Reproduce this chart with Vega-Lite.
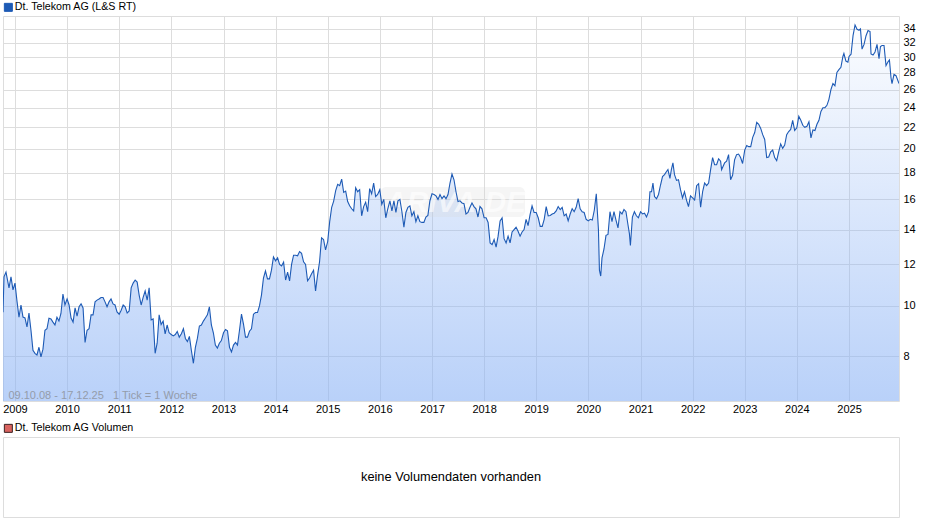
{"$schema":"https://vega.github.io/schema/vega-lite/v6.json","padding":{"left":2,"top":1,"right":0,"bottom":0},"background":"white","spacing":7,"resolve":{"scale":{"color":"independent"},"legend":{"color":"independent"}},"config":{"font":"Liberation Sans","view":{"stroke":"#dddddd"}},
"datasets":{"price":[
{"d":"2008-10-09","v":9.71},{"d":"2008-10-16","v":11.36},{"d":"2008-10-30","v":11.6},{"d":"2008-11-20","v":10.82},{"d":"2008-12-04","v":11.36},{"d":"2008-12-18","v":10.72},
{"d":"2009-01-01","v":11.05},{"d":"2009-01-15","v":10.2},{"d":"2009-01-29","v":9.5},{"d":"2009-02-12","v":10.03},{"d":"2009-02-26","v":9.51},{"d":"2009-03-12","v":9.47},{"d":"2009-03-26","v":9.1},{"d":"2009-04-09","v":9.68},{"d":"2009-04-23","v":8.97},{"d":"2009-05-07","v":8.21},{"d":"2009-05-21","v":8.1},{"d":"2009-06-04","v":8.04},{"d":"2009-06-18","v":8.32},{"d":"2009-07-02","v":7.97},{"d":"2009-07-16","v":8.25},{"d":"2009-07-30","v":8.97},{"d":"2009-08-13","v":9.03},{"d":"2009-08-27","v":9.46},{"d":"2009-09-10","v":9.43},{"d":"2009-09-24","v":9.3},{"d":"2009-10-08","v":9.18},{"d":"2009-10-22","v":9.5},{"d":"2009-11-05","v":9.34},{"d":"2009-11-19","v":9.66},{"d":"2009-12-03","v":10.53},{"d":"2009-12-17","v":10.03},
{"d":"2010-01-01","v":10.3},{"d":"2010-01-15","v":10.03},{"d":"2010-01-29","v":9.47},{"d":"2010-02-12","v":9.3},{"d":"2010-02-26","v":9.9},{"d":"2010-03-12","v":9.55},{"d":"2010-03-26","v":9.95},{"d":"2010-04-09","v":10.08},{"d":"2010-04-23","v":9.9},{"d":"2010-05-07","v":8.5},{"d":"2010-05-21","v":8.97},{"d":"2010-06-04","v":9.03},{"d":"2010-06-18","v":9.6},{"d":"2010-07-02","v":9.6},{"d":"2010-07-16","v":10.17},{"d":"2010-07-30","v":10.25},{"d":"2010-08-13","v":10.3},{"d":"2010-08-27","v":10.37},{"d":"2010-09-10","v":10.37},{"d":"2010-09-24","v":10.17},{"d":"2010-10-08","v":9.95},{"d":"2010-10-22","v":10.17},{"d":"2010-11-05","v":10.3},{"d":"2010-11-19","v":10.08},{"d":"2010-12-03","v":10.03},{"d":"2010-12-17","v":9.73},
{"d":"2011-01-01","v":9.63},{"d":"2011-01-15","v":9.8},{"d":"2011-01-29","v":10.03},{"d":"2011-02-12","v":9.95},{"d":"2011-02-26","v":9.68},{"d":"2011-03-12","v":9.77},{"d":"2011-03-26","v":10.82},{"d":"2011-04-09","v":11.05},{"d":"2011-04-23","v":11.2},{"d":"2011-05-07","v":11.1},{"d":"2011-05-21","v":10.48},{"d":"2011-06-04","v":10.03},{"d":"2011-06-18","v":10.37},{"d":"2011-07-02","v":10.67},{"d":"2011-07-16","v":10.25},{"d":"2011-07-30","v":10.82},{"d":"2011-08-13","v":9.39},{"d":"2011-08-27","v":9.43},{"d":"2011-09-10","v":8.1},{"d":"2011-09-24","v":8.47},{"d":"2011-10-08","v":9.6},{"d":"2011-10-22","v":9.2},{"d":"2011-11-05","v":9.34},{"d":"2011-11-19","v":8.83},{"d":"2011-12-03","v":9.18},{"d":"2011-12-17","v":8.87},
{"d":"2012-01-01","v":8.8},{"d":"2012-01-15","v":8.75},{"d":"2012-01-29","v":8.8},{"d":"2012-02-12","v":8.92},{"d":"2012-02-26","v":8.7},{"d":"2012-03-12","v":8.83},{"d":"2012-03-26","v":9.03},{"d":"2012-04-09","v":8.65},{"d":"2012-04-23","v":8.53},{"d":"2012-05-07","v":8.73},{"d":"2012-05-21","v":8.2},{"d":"2012-06-04","v":7.75},{"d":"2012-06-18","v":8.32},{"d":"2012-07-02","v":8.65},{"d":"2012-07-16","v":9.14},{"d":"2012-07-30","v":9.18},{"d":"2012-08-13","v":9.34},{"d":"2012-08-27","v":9.47},{"d":"2012-09-10","v":9.6},{"d":"2012-09-24","v":9.95},{"d":"2012-10-08","v":9.18},{"d":"2012-10-22","v":8.87},{"d":"2012-11-05","v":8.4},{"d":"2012-11-19","v":8.29},{"d":"2012-12-03","v":8.47},{"d":"2012-12-17","v":8.57},
{"d":"2013-01-01","v":8.87},{"d":"2013-01-15","v":9.0},{"d":"2013-01-29","v":8.95},{"d":"2013-02-12","v":8.32},{"d":"2013-02-26","v":8.15},{"d":"2013-03-12","v":8.4},{"d":"2013-03-26","v":8.5},{"d":"2013-04-09","v":8.4},{"d":"2013-04-23","v":8.97},{"d":"2013-05-07","v":9.63},{"d":"2013-05-21","v":9.22},{"d":"2013-06-04","v":8.7},{"d":"2013-06-18","v":8.7},{"d":"2013-07-02","v":8.93},{"d":"2013-07-16","v":9.03},{"d":"2013-07-30","v":9.63},{"d":"2013-08-13","v":9.7},{"d":"2013-08-27","v":9.7},{"d":"2013-09-10","v":9.99},{"d":"2013-09-24","v":10.48},{"d":"2013-10-08","v":11.3},{"d":"2013-10-22","v":11.66},{"d":"2013-11-05","v":11.26},{"d":"2013-11-19","v":11.26},{"d":"2013-12-03","v":11.7},{"d":"2013-12-17","v":12.4},
{"d":"2014-01-01","v":12.19},{"d":"2014-01-15","v":12.36},{"d":"2014-01-29","v":12.0},{"d":"2014-02-12","v":11.92},{"d":"2014-02-26","v":12.12},{"d":"2014-03-12","v":11.2},{"d":"2014-03-26","v":11.6},{"d":"2014-04-09","v":11.16},{"d":"2014-04-23","v":12.0},{"d":"2014-05-07","v":12.5},{"d":"2014-05-21","v":12.5},{"d":"2014-06-04","v":12.47},{"d":"2014-06-18","v":12.7},{"d":"2014-07-02","v":12.6},{"d":"2014-07-16","v":12.14},{"d":"2014-07-30","v":12.0},{"d":"2014-08-13","v":11.16},{"d":"2014-08-27","v":11.3},{"d":"2014-09-10","v":11.52},{"d":"2014-09-24","v":11.7},{"d":"2014-10-08","v":10.67},{"d":"2014-10-22","v":11.45},{"d":"2014-11-05","v":12.14},{"d":"2014-11-19","v":13.5},{"d":"2014-12-03","v":13.4},{"d":"2014-12-17","v":12.8},
{"d":"2015-01-01","v":13.28},{"d":"2015-01-15","v":14.5},{"d":"2015-01-29","v":15.45},{"d":"2015-02-12","v":15.88},{"d":"2015-02-26","v":16.63},{"d":"2015-03-12","v":17.1},{"d":"2015-03-26","v":17.0},{"d":"2015-04-09","v":17.5},{"d":"2015-04-23","v":16.5},{"d":"2015-05-07","v":16.6},{"d":"2015-05-21","v":15.85},{"d":"2015-06-04","v":15.56},{"d":"2015-06-18","v":15.35},{"d":"2015-07-02","v":15.2},{"d":"2015-07-16","v":16.85},{"d":"2015-07-30","v":16.55},{"d":"2015-08-13","v":16.7},{"d":"2015-08-27","v":14.88},{"d":"2015-09-10","v":15.5},{"d":"2015-09-24","v":15.8},{"d":"2015-10-08","v":15.15},{"d":"2015-10-22","v":16.78},{"d":"2015-11-05","v":16.4},{"d":"2015-11-19","v":17.2},{"d":"2015-12-03","v":16.2},{"d":"2015-12-17","v":16.35},
{"d":"2016-01-01","v":16.7},{"d":"2016-01-15","v":15.65},{"d":"2016-01-29","v":16.0},{"d":"2016-02-12","v":14.75},{"d":"2016-02-26","v":15.35},{"d":"2016-03-12","v":15.9},{"d":"2016-03-26","v":15.2},{"d":"2016-04-09","v":15.9},{"d":"2016-04-23","v":15.1},{"d":"2016-05-07","v":15.9},{"d":"2016-05-21","v":16.0},{"d":"2016-06-04","v":15.15},{"d":"2016-06-18","v":14.15},{"d":"2016-07-02","v":15.1},{"d":"2016-07-16","v":15.45},{"d":"2016-07-30","v":15.55},{"d":"2016-08-13","v":14.88},{"d":"2016-08-27","v":15.15},{"d":"2016-09-10","v":14.5},{"d":"2016-09-24","v":14.88},{"d":"2016-10-08","v":14.5},{"d":"2016-10-22","v":14.45},{"d":"2016-11-05","v":14.45},{"d":"2016-11-19","v":14.8},{"d":"2016-12-03","v":14.9},{"d":"2016-12-17","v":15.9},
{"d":"2017-01-01","v":16.4},{"d":"2017-01-15","v":16.35},{"d":"2017-01-29","v":16.25},{"d":"2017-02-12","v":16.0},{"d":"2017-02-26","v":16.35},{"d":"2017-03-12","v":16.05},{"d":"2017-03-26","v":16.25},{"d":"2017-04-09","v":16.05},{"d":"2017-04-23","v":16.35},{"d":"2017-05-07","v":17.2},{"d":"2017-05-21","v":17.9},{"d":"2017-06-04","v":17.45},{"d":"2017-06-18","v":16.55},{"d":"2017-07-02","v":15.85},{"d":"2017-07-16","v":15.9},{"d":"2017-07-30","v":15.75},{"d":"2017-08-13","v":15.7},{"d":"2017-08-27","v":15.0},{"d":"2017-09-10","v":15.1},{"d":"2017-09-24","v":15.45},{"d":"2017-10-08","v":15.75},{"d":"2017-10-22","v":15.5},{"d":"2017-11-05","v":15.35},{"d":"2017-11-19","v":14.8},{"d":"2017-12-03","v":15.5},{"d":"2017-12-17","v":15.35},
{"d":"2018-01-01","v":14.75},{"d":"2018-01-15","v":14.75},{"d":"2018-01-29","v":14.45},{"d":"2018-02-12","v":13.2},{"d":"2018-02-26","v":13.1},{"d":"2018-03-12","v":13.4},{"d":"2018-03-26","v":12.95},{"d":"2018-04-09","v":13.6},{"d":"2018-04-23","v":14.55},{"d":"2018-05-07","v":14.75},{"d":"2018-05-21","v":13.45},{"d":"2018-06-04","v":13.2},{"d":"2018-06-18","v":13.6},{"d":"2018-07-02","v":13.2},{"d":"2018-07-16","v":13.85},{"d":"2018-07-30","v":14.0},{"d":"2018-08-13","v":14.15},{"d":"2018-08-27","v":13.9},{"d":"2018-09-10","v":13.6},{"d":"2018-09-24","v":13.85},{"d":"2018-10-08","v":14.0},{"d":"2018-10-22","v":14.65},{"d":"2018-11-05","v":14.25},{"d":"2018-11-19","v":14.95},{"d":"2018-12-03","v":15.55},{"d":"2018-12-17","v":15.1},
{"d":"2019-01-01","v":15.1},{"d":"2019-01-15","v":14.75},{"d":"2019-01-29","v":14.2},{"d":"2019-02-12","v":14.2},{"d":"2019-02-26","v":14.65},{"d":"2019-03-12","v":15.5},{"d":"2019-03-26","v":14.88},{"d":"2019-04-09","v":14.9},{"d":"2019-04-23","v":15.0},{"d":"2019-05-07","v":15.05},{"d":"2019-05-21","v":15.2},{"d":"2019-06-04","v":15.5},{"d":"2019-06-18","v":15.3},{"d":"2019-07-02","v":15.45},{"d":"2019-07-16","v":14.88},{"d":"2019-07-30","v":15.0},{"d":"2019-08-13","v":14.55},{"d":"2019-08-27","v":15.0},{"d":"2019-09-10","v":15.35},{"d":"2019-09-24","v":15.15},{"d":"2019-10-08","v":15.45},{"d":"2019-10-22","v":16.05},{"d":"2019-11-05","v":15.35},{"d":"2019-11-19","v":15.15},{"d":"2019-12-03","v":15.1},{"d":"2019-12-17","v":14.65},
{"d":"2020-01-01","v":14.55},{"d":"2020-01-15","v":14.65},{"d":"2020-01-29","v":14.6},{"d":"2020-02-12","v":15.25},{"d":"2020-02-26","v":16.4},{"d":"2020-03-12","v":14.0},{"d":"2020-03-19","v":11.7},{"d":"2020-03-28","v":11.4},{"d":"2020-04-06","v":12.35},{"d":"2020-04-20","v":12.85},{"d":"2020-05-04","v":13.65},{"d":"2020-05-18","v":13.7},{"d":"2020-06-01","v":15.15},{"d":"2020-06-15","v":14.5},{"d":"2020-06-29","v":15.15},{"d":"2020-07-13","v":14.6},{"d":"2020-07-27","v":14.1},{"d":"2020-08-10","v":15.15},{"d":"2020-08-24","v":15.0},{"d":"2020-09-07","v":15.3},{"d":"2020-09-21","v":15.15},{"d":"2020-10-05","v":14.3},{"d":"2020-10-15","v":13.75},{"d":"2020-10-22","v":13.05},{"d":"2020-11-05","v":14.8},{"d":"2020-11-19","v":15.15},{"d":"2020-12-03","v":14.88},{"d":"2020-12-17","v":14.75},
{"d":"2021-01-01","v":15.15},{"d":"2021-01-15","v":15.0},{"d":"2021-01-29","v":15.05},{"d":"2021-02-12","v":14.8},{"d":"2021-02-26","v":15.15},{"d":"2021-03-08","v":16.55},{"d":"2021-03-19","v":16.55},{"d":"2021-03-29","v":17.2},{"d":"2021-04-09","v":16.2},{"d":"2021-04-23","v":16.05},{"d":"2021-05-07","v":16.35},{"d":"2021-05-21","v":17.05},{"d":"2021-06-04","v":17.7},{"d":"2021-06-18","v":17.85},{"d":"2021-07-02","v":18.1},{"d":"2021-07-12","v":18.25},{"d":"2021-07-26","v":17.55},{"d":"2021-08-05","v":18.25},{"d":"2021-08-16","v":18.8},{"d":"2021-08-27","v":17.85},{"d":"2021-09-10","v":17.4},{"d":"2021-09-24","v":17.45},{"d":"2021-10-08","v":16.7},{"d":"2021-10-22","v":16.1},{"d":"2021-11-05","v":16.55},{"d":"2021-11-19","v":15.95},{"d":"2021-12-03","v":15.5},{"d":"2021-12-17","v":16.25},
{"d":"2022-01-01","v":16.1},{"d":"2022-01-15","v":15.95},{"d":"2022-01-29","v":17.0},{"d":"2022-02-12","v":17.15},{"d":"2022-02-26","v":15.45},{"d":"2022-03-12","v":16.55},{"d":"2022-03-26","v":17.2},{"d":"2022-04-09","v":17.0},{"d":"2022-04-23","v":17.2},{"d":"2022-05-07","v":18.25},{"d":"2022-05-21","v":19.25},{"d":"2022-06-04","v":18.65},{"d":"2022-06-18","v":18.65},{"d":"2022-07-02","v":19.15},{"d":"2022-07-16","v":18.95},{"d":"2022-07-23","v":18.25},{"d":"2022-08-13","v":18.8},{"d":"2022-08-27","v":18.95},{"d":"2022-09-10","v":19.5},{"d":"2022-09-24","v":17.45},{"d":"2022-10-08","v":17.8},{"d":"2022-10-22","v":19.05},{"d":"2022-11-05","v":19.5},{"d":"2022-11-19","v":19.55},{"d":"2022-12-03","v":19.25},{"d":"2022-12-17","v":18.75},
{"d":"2023-01-01","v":19.9},{"d":"2023-01-15","v":20.3},{"d":"2023-01-29","v":20.2},{"d":"2023-02-12","v":20.2},{"d":"2023-02-26","v":21.05},{"d":"2023-03-12","v":21.5},{"d":"2023-03-26","v":22.5},{"d":"2023-04-09","v":22.3},{"d":"2023-04-23","v":21.9},{"d":"2023-05-07","v":21.3},{"d":"2023-05-21","v":20.85},{"d":"2023-06-04","v":19.25},{"d":"2023-06-18","v":19.3},{"d":"2023-07-02","v":19.75},{"d":"2023-07-16","v":19.9},{"d":"2023-07-30","v":19.25},{"d":"2023-08-13","v":19.0},{"d":"2023-08-27","v":19.75},{"d":"2023-09-10","v":20.45},{"d":"2023-09-24","v":20.05},{"d":"2023-10-08","v":20.35},{"d":"2023-10-22","v":21.3},{"d":"2023-11-05","v":21.6},{"d":"2023-11-19","v":21.8},{"d":"2023-12-03","v":22.7},{"d":"2023-12-17","v":21.7},
{"d":"2024-01-01","v":21.95},{"d":"2024-01-15","v":23.1},{"d":"2024-01-29","v":22.7},{"d":"2024-02-12","v":22.2},{"d":"2024-02-26","v":22.0},{"d":"2024-03-12","v":22.1},{"d":"2024-03-26","v":22.55},{"d":"2024-04-09","v":21.0},{"d":"2024-04-23","v":21.75},{"d":"2024-05-07","v":21.7},{"d":"2024-05-21","v":22.3},{"d":"2024-06-04","v":22.7},{"d":"2024-06-18","v":23.6},{"d":"2024-07-02","v":24.0},{"d":"2024-07-16","v":24.0},{"d":"2024-07-30","v":24.25},{"d":"2024-08-13","v":24.9},{"d":"2024-08-27","v":26.0},{"d":"2024-09-10","v":26.7},{"d":"2024-09-24","v":26.45},{"d":"2024-10-08","v":28.05},{"d":"2024-10-22","v":28.4},{"d":"2024-11-05","v":28.7},{"d":"2024-11-19","v":30.1},{"d":"2024-11-26","v":30.5},{"d":"2024-12-10","v":29.5},{"d":"2024-12-24","v":29.35},
{"d":"2025-01-01","v":30.1},{"d":"2025-01-15","v":30.4},{"d":"2025-01-29","v":33.0},{"d":"2025-02-12","v":34.6},{"d":"2025-02-26","v":33.95},{"d":"2025-03-12","v":33.8},{"d":"2025-03-22","v":34.0},{"d":"2025-04-02","v":31.1},{"d":"2025-04-16","v":31.75},{"d":"2025-04-30","v":33.0},{"d":"2025-05-14","v":33.75},{"d":"2025-05-28","v":33.6},{"d":"2025-06-04","v":30.45},{"d":"2025-06-18","v":30.3},{"d":"2025-07-02","v":30.7},{"d":"2025-07-16","v":31.75},{"d":"2025-07-30","v":29.8},{"d":"2025-08-09","v":31.45},{"d":"2025-08-20","v":31.6},{"d":"2025-09-03","v":31.6},{"d":"2025-09-17","v":28.9},{"d":"2025-10-01","v":29.4},{"d":"2025-10-11","v":29.65},{"d":"2025-10-22","v":27.4},{"d":"2025-10-29","v":26.7},{"d":"2025-11-12","v":27.8},{"d":"2025-11-26","v":27.65},{"d":"2025-12-17","v":26.7}
]},
"vconcat":[
{"width":896,"height":385,
"encoding":{
"x":{"type":"temporal","scale":{"domain":["2008-10-09","2025-12-17"]},"axis":{"orient":"bottom","title":null,"format":"%Y","values":["2009-01-01","2010-01-01","2011-01-01","2012-01-01","2013-01-01","2014-01-01","2015-01-01","2016-01-01","2017-01-01","2018-01-01","2019-01-01","2020-01-01","2021-01-01","2022-01-01","2023-01-01","2024-01-01","2025-01-01"],"grid":true,"gridColor":"#dddddd","gridWidth":1,"domain":false,"ticks":false,"labelFontSize":11,"labelColor":"#000000","labelPadding":2,"labelOverlap":false,"labelFlush":false,"labelAngle":0}},
"y":{"type":"quantitative","scale":{"type":"log","domain":[6.56,36],"nice":false},"axis":{"orient":"right","title":null,"values":[8,10,12,14,16,18,20,22,24,26,28,30,32,34],"grid":true,"gridColor":"#dddddd","gridWidth":1,"domain":false,"ticks":false,"labelFontSize":11,"labelColor":"#000000","labelPadding":4,"labelOverlap":false,"format":"d"}}},
"layer":[
{"data":{"name":"price"},"mark":{"type":"area","clip":true,"color":{"gradient":"linear","x1":0,"y1":0,"x2":0,"y2":1,"stops":[{"offset":0,"color":"rgba(138,178,245,0.03)"},{"offset":1,"color":"rgba(138,178,245,0.6)"}]}},"encoding":{"x":{"field":"d"},"y":{"field":"v","stack":null}}},
{"data":{"values":[{"a":"2016-01-05","b":"2018-10-15","lo":14.8,"hi":16.9}]},"mark":{"type":"rect","color":"#d8d8d8","opacity":0.25,"cornerRadius":6},"encoding":{"x":{"field":"a"},"x2":{"field":"b"},"y":{"field":"lo"},"y2":{"field":"hi"}}},
{"data":{"values":[{"d":"2017-06-15","v":15.75,"t":"ARIVA.DE"}]},"mark":{"type":"text","color":"#ffffff","opacity":0.6,"fontSize":30,"fontWeight":"bold","fontStyle":"italic","font":"Liberation Sans"},"encoding":{"x":{"field":"d"},"y":{"field":"v"},"text":{"field":"t"}}},
{"data":{"name":"price"},"mark":{"type":"line","clip":true,"strokeWidth":1.1,"interpolate":"linear"},"encoding":{"x":{"field":"d"},"y":{"field":"v"},"color":{"datum":"Dt. Telekom AG (L&S RT)","type":"nominal","scale":{"range":["#1d5ab5"]},"legend":{"title":null,"orient":"none","legendX":0,"legendY":-14,"symbolType":"square","symbolSize":64,"symbolOpacity":1,"symbolFillColor":"#1d5ab5","symbolStrokeColor":"#1a2f5a","symbolStrokeWidth":1,"labelFontSize":10.7,"labelColor":"#000000","labelFont":"Liberation Sans","labelOffset":1,"padding":0}}}},
{"data":{"values":[{"d":"2008-11-16","v":6.72,"t":"09.10.08 - 17.12.25\u00a0\u00a0\u00a01 Tick = 1 Woche"}]},"mark":{"type":"text","align":"left","color":"#808080","opacity":0.65,"fontSize":11},"encoding":{"x":{"field":"d"},"y":{"field":"v"},"text":{"field":"t"}}}
]},
{"width":896,"height":80,"view":{"stroke":"#dddddd"},
"layer":[
{"data":{"values":[{"s":"Dt. Telekom AG Volumen"}]},"mark":{"type":"point","filled":true,"size":0},"encoding":{"color":{"field":"s","type":"nominal","scale":{"range":["#d9635f"]},"legend":{"title":null,"orient":"none","legendX":0,"legendY":-14,"symbolType":"square","symbolSize":64,"symbolOpacity":1,"symbolFillColor":"#d9635f","symbolStrokeColor":"#3a2020","symbolStrokeWidth":1,"labelFontSize":10.7,"labelColor":"#000000","labelFont":"Liberation Sans","labelOffset":1,"padding":0}}}},
{"data":{"values":[{"t":"keine Volumendaten vorhanden"}]},"mark":{"type":"text","fontSize":12.8,"color":"#000000"},"encoding":{"text":{"field":"t"}}}
]}
]}
